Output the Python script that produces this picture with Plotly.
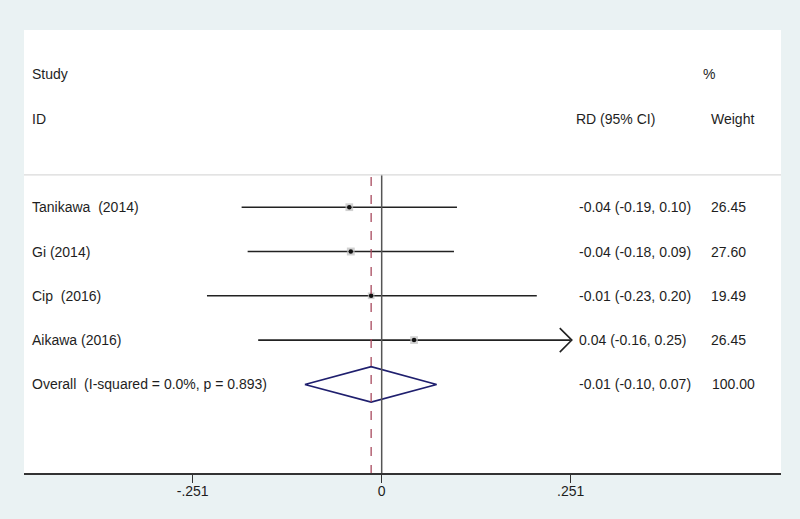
import plotly.graph_objects as go

# ---- data ----
studies = ["Tanikawa  (2014)", "Gi (2014)", "Cip  (2016)", "Aikawa (2016)"]
rd = [-0.043, -0.041, -0.014, 0.043]
ci_lo = [-0.186, -0.178, -0.232, -0.164]
ci_hi = [0.100, 0.096, 0.206, 0.252]
ci_text = ["-0.04 (-0.19, 0.10)", "-0.04 (-0.18, 0.09)", "-0.01 (-0.23, 0.20)", "0.04 (-0.16, 0.25)"]
weights = ["26.45", "27.60", "19.49", "26.45"]
weight_vals = [26.45, 27.60, 19.49, 26.45]

overall_label = "Overall  (I-squared = 0.0%, p = 0.893)"
overall_rd = -0.014
overall_lo = -0.102
overall_hi = 0.073
overall_text = "-0.01 (-0.10, 0.07)"
overall_weight = "100.00"

tick_vals = [-0.251, 0, 0.251]
tick_text = ["-.251", "0", ".251"]

# ---- layout constants ----
FONT = "Liberation Sans, Arial, sans-serif"
TXT = "#1E1E1E"
XMIN, XMAX = -0.4750, 0.5303
rows = [4, 5, 6, 7]
overall_row = 8
sep_row = 3.27
axis_max = tick_vals[-1]

fig = go.Figure()

# CI lines
for i, r in enumerate(rows):
    hi = min(ci_hi[i], axis_max)
    fig.add_trace(go.Scatter(x=[ci_lo[i], hi], y=[r, r], mode="lines",
                             line=dict(color="#222222", width=1.6), hoverinfo="skip", showlegend=False))
    if ci_hi[i] > axis_max:
        dx, dy = 0.0145, 0.27
        fig.add_trace(go.Scatter(x=[hi - dx, hi + 0.0015, hi - dx], y=[r - dy, r, r + dy], mode="lines",
                                 line=dict(color="#222222", width=1.6), hoverinfo="skip", showlegend=False))

# zero line and overall dashed line
fig.add_shape(type="line", x0=0, x1=0, y0=sep_row, y1=10, xref="x", yref="y",
              line=dict(color="#555555", width=1.5))
fig.add_shape(type="line", x0=overall_rd, x1=overall_rd, y0=sep_row + 0.05, y1=10, xref="x", yref="y",
              line=dict(color="#A84A5E", width=1.3, dash="dash"))

# weight boxes
fig.add_trace(go.Scatter(x=rd, y=rows, mode="markers",
                         marker=dict(symbol="square", size=[w ** 0.5 * 1.5 for w in weight_vals],
                                     color="#BDBDBD", line=dict(width=0)),
                         hoverinfo="skip", showlegend=False))
fig.add_trace(go.Scatter(x=rd, y=rows, mode="markers",
                         marker=dict(symbol="circle", size=4.5, color="#111111"),
                         hoverinfo="skip", showlegend=False))

# diamond
h = 0.4
fig.add_trace(go.Scatter(x=[overall_lo, overall_rd, overall_hi, overall_rd, overall_lo],
                         y=[overall_row, overall_row - h, overall_row, overall_row + h, overall_row],
                         mode="lines", line=dict(color="#1F1F6E", width=1.6),
                         hoverinfo="skip", showlegend=False))

# separator line
fig.add_shape(type="line", x0=0, x1=1, y0=sep_row, y1=sep_row, xref="paper", yref="y",
              line=dict(color="#DADADA", width=1.2))

# text
def txt(x, y, s):
    fig.add_annotation(x=x, y=y, text=s, xref="x", yref="y", showarrow=False,
                       xanchor="left", yanchor="middle",
                       font=dict(family=FONT, size=14, color=TXT))

X_STUDY = -0.4671
X_CI = 0.2593
X_W = 0.4346
txt(X_STUDY, 1, "Study")
txt(X_STUDY, 2, "ID")
txt(0.2553, 2, "RD (95% CI)")
txt(0.4240, 1, "%")
txt(0.4343, 2, "Weight")
for i, r in enumerate(rows):
    txt(X_STUDY, r, studies[i])
    txt(X_CI, r, ci_text[i])
    txt(X_W, r, weights[i])
txt(X_STUDY, overall_row, overall_label)
txt(X_CI, overall_row, overall_text)
txt(X_W + 0.001, overall_row, overall_weight)

fig.update_layout(
    width=800, height=519,
    margin=dict(l=24, r=19, t=30, b=46),
    paper_bgcolor="#EAF2F3", plot_bgcolor="#FFFFFF",
    font=dict(family=FONT, size=14, color=TXT),
    xaxis=dict(range=[XMIN, XMAX], showgrid=False, zeroline=False,
               showline=True, linecolor="#333333", linewidth=1.5,
               ticks="outside", ticklen=8, tickcolor="#333333", tickwidth=1.2,
               tickvals=tick_vals, ticktext=tick_text, ticklabelstandoff=-4,
               tickfont=dict(family=FONT, size=14, color=TXT)),
    yaxis=dict(range=[10, 0], visible=False, showgrid=False, zeroline=False),
)

fig.write_html("out.html", config={"displayModeBar": False},
               post_script="document.body.style.margin='0';document.body.style.background='#EAF2F3';")
